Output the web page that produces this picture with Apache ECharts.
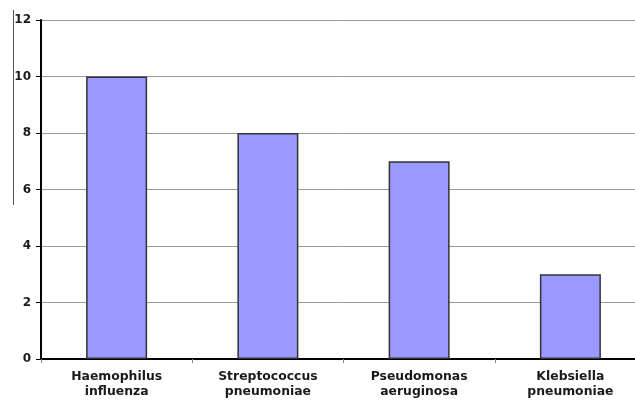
<!DOCTYPE html>
<html><head><meta charset="utf-8">
<script src="https://cdn.jsdelivr.net/npm/echarts@6/dist/echarts.min.js"></script>
<style>html,body{margin:0;padding:0;background:#fff}#c{width:635px;height:401px}</style>
</head><body><div id="c"></div>
<script>
const categories = ["Haemophilus\ninfluenza", "Streptococcus\npneumoniae", "Pseudomonas\naeruginosa", "Klebsiella\npneumoniae"];
const values = [10, 8, 7, 3];
const yTicks = [0, 2, 4, 6, 8, 10, 12];

const chart = echarts.init(document.getElementById('c'));
chart.setOption({
  animation: false,
  backgroundColor: '#fff',
  grid: { left: 41, width: 605, top: 20, height: 339, outerBoundsMode: 'none', containLabel: false },
  graphic: [{ type: 'line', shape: { x1: 13.5, y1: 10, x2: 13.5, y2: 205 }, style: { stroke: '#555', lineWidth: 1 } }],
  xAxis: {
    type: 'category', data: categories,
    axisLine: { lineStyle: { color: '#000', width: 2 } },
    axisTick: { show: true, length: 4, lineStyle: { color: '#888' } },
    axisLabel: { color: '#1a1a1a', fontFamily: 'DejaVu Sans', fontWeight: 'bold', fontSize: 12.4, lineHeight: 15, margin: 10 }
  },
  yAxis: {
    type: 'value', min: 0, max: 12, interval: 2,
    axisLine: { show: true, lineStyle: { color: '#000', width: 2 } },
    axisTick: { show: true, length: 5, lineStyle: { color: '#000' } },
    splitLine: { lineStyle: { color: '#999', width: 1 } },
    axisLabel: { color: '#1a1a1a', fontFamily: 'DejaVu Sans', fontWeight: 'bold', fontSize: 12, margin: 10,
      formatter: v => yTicks.includes(v) ? String(v) : '' }
  },
  series: [{
    type: 'bar', data: values, barWidth: 61,
    itemStyle: { color: '#9999ff', borderColor: '#333', borderWidth: 1.5 }
  }]
});
</script></body></html>
